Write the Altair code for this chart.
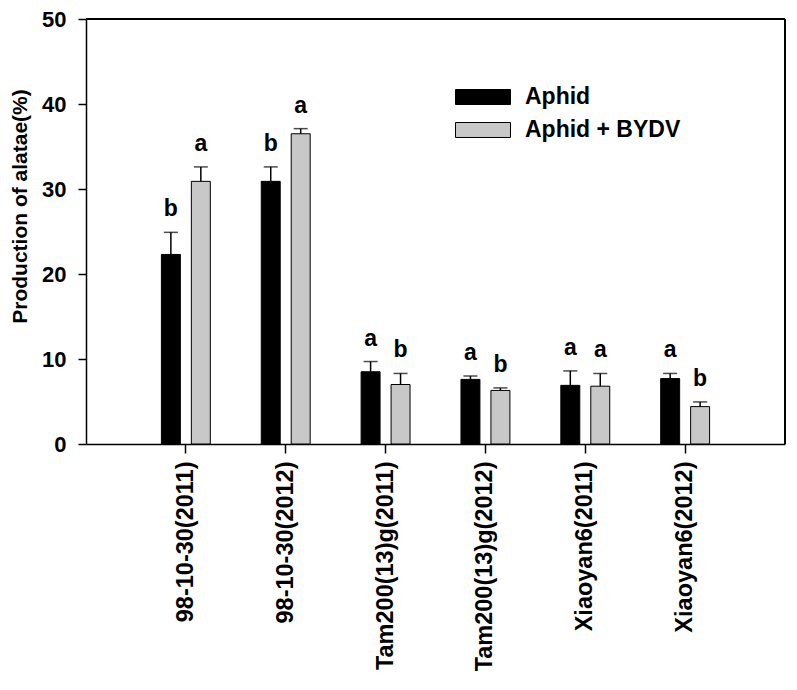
import altair as alt
import pandas as pd

cultivars = ["98-10-30(2011)", "98-10-30(2012)", "Tam200(13)g(2011)",
             "Tam200(13)g(2012)", "Xiaoyan6(2011)", "Xiaoyan6(2012)"]
treatments = ["Aphid", "Aphid + BYDV"]
aphid_mean = [22.3, 30.9, 8.5, 7.6, 6.9, 7.7]
aphid_se = [2.6, 1.7, 1.2, 0.4, 1.7, 0.6]
bydv_mean = [30.9, 36.5, 7.0, 6.3, 6.8, 4.4]
bydv_se = [1.7, 0.6, 1.3, 0.3, 1.5, 0.55]
aphid_letters = ["b", "b", "a", "a", "a", "a"]
bydv_letters = ["a", "a", "b", "b", "a", "b"]

rows = []
for i, c in enumerate(cultivars):
    rows.append(dict(cultivar=c, treatment=treatments[0], mean=aphid_mean[i],
                     top=aphid_mean[i] + aphid_se[i], letter=aphid_letters[i]))
    rows.append(dict(cultivar=c, treatment=treatments[1], mean=bydv_mean[i],
                     top=bydv_mean[i] + bydv_se[i], letter=bydv_letters[i]))
df = pd.DataFrame(rows)

FONT = "Liberation Sans"
PLOT_W, PLOT_H = 699, 425
x_scale = alt.Scale(paddingInner=0, paddingOuter=0.5)
y_scale = alt.Scale(domain=[0, 50])

x_axis = alt.Axis(title=None, labelAngle=-90, labelFontSize=23.5, labelFont=FONT,
                  labelFontWeight="bold", labelColor="black", labelPadding=8,
                  labelLimit=400, tickSize=9, tickColor="black", tickWidth=1.5,
                  domainColor="black", domainWidth=1.5)
y_axis = alt.Axis(values=[0, 10, 20, 30, 40, 50], grid=False, labelFontSize=22, labelFont=FONT,
                  labelFontWeight="bold", labelColor="black", labelPadding=12, tickSize=8,
                  tickColor="black", tickWidth=1.5, domainColor="black", domainWidth=1.5,
                  title="Production of alatae(%)", titleFontSize=21, titleFont=FONT,
                  titleFontWeight="bold", titleColor="black", titleX=-66, titleY=187,
                  titleBaseline="middle", titleAlign="center")

xo_enc = alt.XOffset("treatment:N", sort=treatments,
                     scale=alt.Scale(paddingInner=0.367, paddingOuter=0.85))
x_enc = alt.X("cultivar:N", sort=cultivars, scale=x_scale, axis=x_axis)

base = alt.Chart(df).encode(x=x_enc, xOffset=xo_enc)

bars = base.mark_bar(stroke="black", strokeWidth=1).encode(
    y=alt.Y("mean:Q", scale=y_scale, axis=y_axis),
    color=alt.Color("treatment:N", sort=treatments,
                    scale=alt.Scale(domain=treatments, range=["#000000", "#c8c8c8"]),
                    legend=alt.Legend(title=None, orient="none", legendX=385, legendY=66,
                                      symbolType="M-2.39,-0.652H2.39V0.652H-2.39Z",
                                      symbolSize=529, symbolStrokeColor="black",
                                      symbolStrokeWidth=1, symbolOpacity=1,
                                      labelFontSize=23, labelFont=FONT,
                                      labelFontWeight="bold", labelColor="black",
                                      labelOffset=30, rowPadding=9, padding=0,
                                      labelLimit=400)))

rules = base.mark_rule(color="black", strokeWidth=1.5).encode(
    y=alt.Y("mean:Q"), y2="top:Q")
caps = base.mark_tick(color="black", size=14, thickness=1.5).encode(y=alt.Y("top:Q"))
texts = base.mark_text(dy=-16, baseline="alphabetic", fontSize=23, fontWeight="bold",
                       font=FONT, color="black").encode(y=alt.Y("top:Q"), text="letter:N")

# plot frame (top and right edges)
frame_top = alt.Chart().mark_rule(color="black", strokeWidth=1.5).encode(
    x=alt.value(0), x2=alt.value(PLOT_W), y=alt.value(0))
frame_right = alt.Chart().mark_rule(color="black", strokeWidth=1.5).encode(
    x=alt.value(PLOT_W), x2=alt.value(PLOT_W), y=alt.value(0), y2=alt.value(PLOT_H))

chart = alt.layer(bars, rules, caps, texts, frame_top, frame_right, data=df).properties(
    width=PLOT_W, height=PLOT_H,
    autosize=alt.AutoSizeParams(type="none"),
    padding={"left": 78, "top": 11, "right": 3, "bottom": 232},
).configure(font=FONT).configure_view(stroke=None)

chart.save("out.html", embed_options={"renderer": "svg", "actions": False})
